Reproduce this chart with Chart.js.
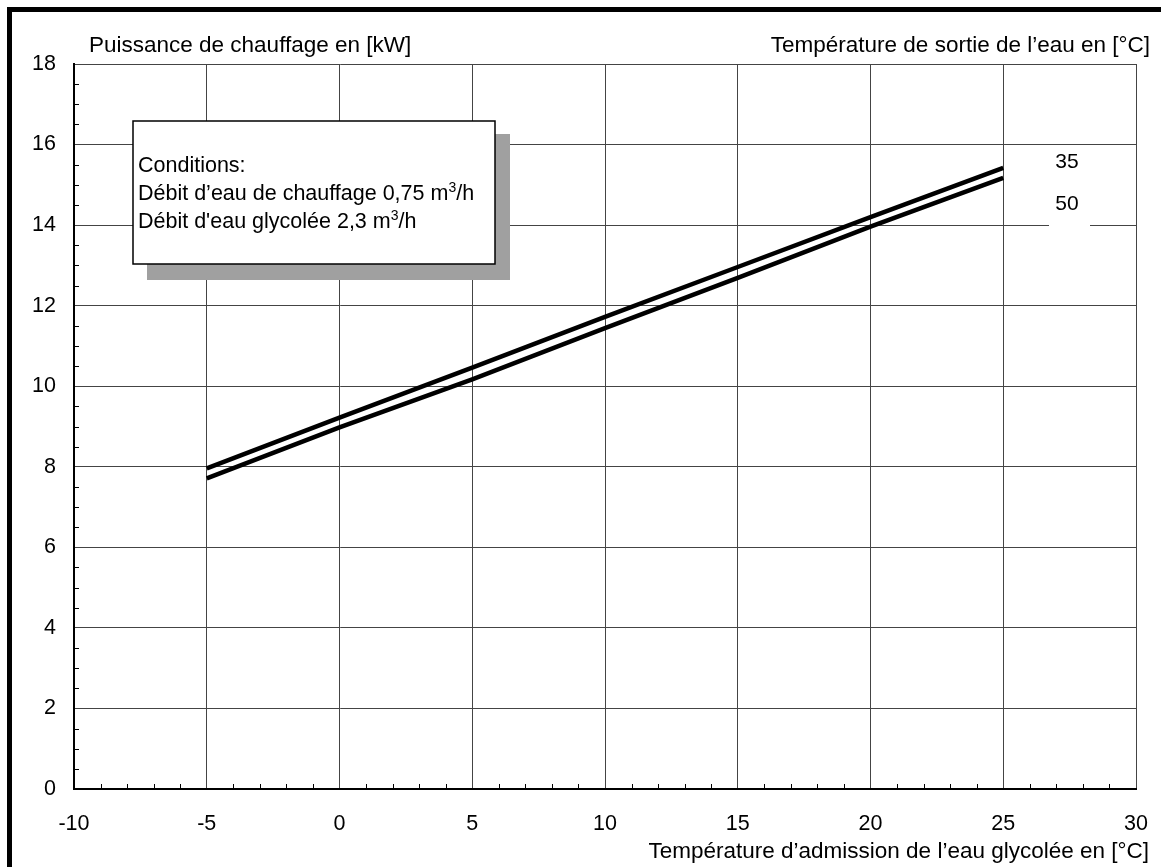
<!DOCTYPE html>
<html>
<head>
<meta charset="utf-8">
<script src="https://cdn.jsdelivr.net/npm/chart.js@4/dist/chart.umd.min.js"></script>
<style>
  body { margin: 0; background: #fff; }
  #wrap { width: 1161px; height: 867px; }
</style>
</head>
<body>
<div id="wrap"><canvas id="powerChart" width="1161" height="867"></canvas></div>
<script>
// Température d'admission (°C) et puissance (kW)
const inletTemps = [-5, 0, 5, 10, 15, 20, 25];
const power35 = [7.96, 9.22, 10.46, 11.72, 12.96, 14.2, 15.42];
const power50 = [7.71, 8.98, 10.17, 11.44, 12.69, 13.96, 15.17];
const seriesNames = ["35", "50"];

const xMin = -10, xMax = 30, xStep = 5, xMinorStep = 1;
const yMin = 0, yMax = 18, yStep = 2, yMinorStep = 0.5;

const FONT = '"Liberation Sans", Arial, Helvetica, sans-serif';

const toPoints = (ys) => inletTemps.map((x, i) => ({ x: x, y: ys[i] }));

// cadre, titres, petites graduations, encadré "Conditions"
const decorPlugin = {
  id: "decor",
  beforeDraw(chart) {
    const c = chart.ctx;
    c.save();
    c.fillStyle = "#fff";
    c.fillRect(0, 0, chart.width, chart.height);
    c.fillStyle = "#000";
    c.fillRect(7, 7, chart.width - 7, 5);
    c.fillRect(7, 7, 5, chart.height - 7);
    c.restore();
  },
  afterDraw(chart) {
    const c = chart.ctx;
    const a = chart.chartArea;
    const xs = chart.scales.x;
    const ys = chart.scales.y;
    c.save();

    // minor ticks, inward
    c.strokeStyle = "#000";
    c.lineWidth = 1;
    c.beginPath();
    for (let v = xMin; v <= xMax; v += xMinorStep) {
      if (v % xStep === 0) continue;
      const px = Math.round(xs.getPixelForValue(v)) + 0.5;
      c.moveTo(px, a.bottom);
      c.lineTo(px, a.bottom - 5);
    }
    for (let v = yMin; v <= yMax; v += yMinorStep) {
      if (v % yStep === 0) continue;
      const py = Math.round(ys.getPixelForValue(v)) + 0.5;
      c.moveTo(a.left, py);
      c.lineTo(a.left + 5, py);
    }
    c.stroke();

    // titles
    c.fillStyle = "#000";
    c.font = "22.5px " + FONT;
    c.textBaseline = "alphabetic";
    c.textAlign = "left";
    c.fillText("Puissance de chauffage en [kW]", 89, 52);
    c.textAlign = "right";
    c.fillText("Température de sortie de l’eau en [°C]", 1150, 52);
    c.fillText("Température d’admission de l’eau glycolée en [°C]", 1149, 858);

    // series labels
    c.fillStyle = "#fff";
    c.fillRect(1049, 186, 41, 46);
    c.fillStyle = "#000";
    c.textAlign = "center";
    c.font = "21px " + FONT;
    c.fillText(seriesNames[0], 1067, 168);
    c.fillText(seriesNames[1], 1067, 210);

    // conditions box with shadow
    c.fillStyle = "#a0a0a0";
    c.fillRect(147, 134, 363, 146);
    c.fillStyle = "#fff";
    c.fillRect(133, 121, 362, 143);
    c.strokeStyle = "#000";
    c.lineWidth = 1.5;
    c.strokeRect(133, 121, 362, 143);

    c.fillStyle = "#000";
    c.textAlign = "left";
    const sup = (pre, post, x, y) => {
      c.font = "21.5px " + FONT;
      c.fillText(pre, x, y);
      let w = c.measureText(pre).width;
      c.font = "14px " + FONT;
      c.fillText("3", x + w, y - 8);
      w += c.measureText("3").width;
      c.font = "21.5px " + FONT;
      c.fillText(post, x + w, y);
    };
    c.font = "21.5px " + FONT;
    c.fillText("Conditions:", 138, 172);
    sup("Débit d’eau de chauffage 0,75 m", "/h", 138, 200);
    sup("Débit d'eau glycolée 2,3 m", "/h", 138, 228);

    c.restore();
  },
};

const ctx = document.getElementById("powerChart").getContext("2d");
const myChart = new Chart(ctx, {
  type: "line",
  data: {
    datasets: [
      {
        label: seriesNames[0],
        data: toPoints(power35),
        borderColor: "#000",
        borderWidth: 4.5,
        pointRadius: 0,
        tension: 0,
      },
      {
        label: seriesNames[1],
        data: toPoints(power50),
        borderColor: "#000",
        borderWidth: 4.5,
        pointRadius: 0,
        tension: 0,
      },
    ],
  },
  options: {
    responsive: false,
    animation: false,
    events: [],
    layout: {
      padding: { left: 0, top: 64, right: 25, bottom: 0 },
    },
    plugins: {
      legend: { display: false },
      tooltip: { enabled: false },
    },
    scales: {
      x: {
        type: "linear",
        min: xMin,
        max: xMax,
        ticks: {
          stepSize: xStep,
          padding: 0,
          color: "#000",
          font: { family: FONT, size: 21.5 },
        },
        // invisible tick marks only push the labels down
        grid: { color: "#444", lineWidth: 1, drawTicks: true, tickLength: 22, tickColor: "rgba(0,0,0,0)" },
        border: { color: "#000", width: 2 },
        afterFit: (scale) => {
          scale.height = 78;
        },
      },
      y: {
        type: "linear",
        min: yMin,
        max: yMax,
        ticks: {
          stepSize: yStep,
          padding: 18,
          color: "#000",
          font: { family: FONT, size: 21.5 },
        },
        grid: { color: "#444", lineWidth: 1, drawTicks: false },
        border: { color: "#000", width: 2 },
        afterFit: (scale) => {
          scale.width = 74;
        },
      },
    },
  },
  plugins: [decorPlugin],
});
</script>
</body>
</html>
